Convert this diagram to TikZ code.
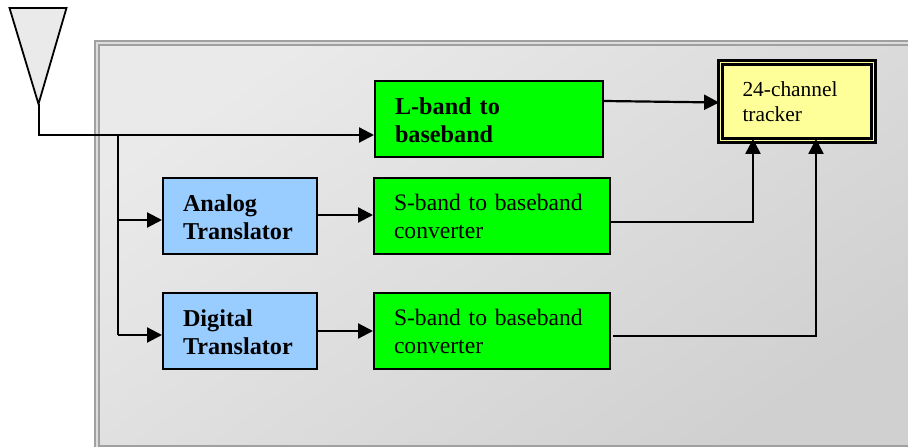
\documentclass[tikz,border=0pt]{standalone}
\usepackage{fontspec}
\setmainfont{Liberation Serif}
\usetikzlibrary{arrows.meta}
\definecolor{panelline}{HTML}{A0A0A0}
\definecolor{panelgap}{HTML}{DDDDDD}
\definecolor{paneltop}{HTML}{EAEAEA}
\definecolor{panelbot}{HTML}{D0D0D0}
\definecolor{boxgreen}{HTML}{00FF00}
\definecolor{boxblue}{HTML}{99CCFF}
\definecolor{boxyellow}{HTML}{FFFF99}
\tikzset{
  panel/.style={draw=panelline,line width=1.8bp,double=panelgap,double distance=2.4bp,
    top color=paneltop,bottom color=panelbot,shading angle=35,
    minimum width=825bp,minimum height=405bp,inner sep=0pt},
  block/.style={draw=black,line width=2bp,inner xsep=20bp,inner ysep=0pt,minimum height=76bp,align=left},
  greenblock/.style={block,fill=boxgreen,text width=196bp,font=\fontsize{23.6bp}{28bp}\selectfont},
  boldblock/.style={block,font=\fontsize{24.2bp}{28bp}\selectfont\bfseries,execute at begin node={\rule{0pt}{19bp}}},
  blueblock/.style={boldblock,fill=boxblue,text width=114bp},
  trackerblock/.style={draw=black,line width=2.8bp,double=boxyellow,double distance=1.8bp,fill=boxyellow,
    inner xsep=22bp,inner ysep=0pt,text width=109bp,minimum height=78bp,align=left,
    font=\fontsize{21.4bp}{25bp}\selectfont},
  wire/.style={black,line width=2.2bp},
  arrowwire/.style={wire,-{Triangle[length=15bp,width=15bp]}}
}
\begin{document}
\begin{tikzpicture}[>=latex,line join=miter]
\useasboundingbox (0bp,0bp) rectangle (908bp,447bp);
%%
\node (node_panel) at (509.5bp,201.5bp) [panel] {};
\draw [black,line width=1.8bp,fill=paneltop] (9.5bp,439bp) -- (66.5bp,439bp) -- (38.5bp,343bp) -- cycle;
\coordinate (node_feed) at (39bp,343bp);
\coordinate (node_bend) at (39bp,312bp);
\coordinate (node_split) at (118bp,312bp);
\coordinate (node_mid) at (118bp,227bp);
\coordinate (node_low) at (118bp,112bp);
  \node (node_lband) at (489bp,327.5bp) [boldblock,fill=boxgreen,text width=188bp] {L-band to\\baseband};
  \node (node_analog) at (240bp,230.5bp) [blueblock] {Analog\\Translator};
  \node (node_digital) at (240bp,115.5bp) [blueblock] {Digital\\Translator};
  \node (node_sone) at (492bp,230.5bp) [greenblock] {S-band to baseband\\converter};
  \node (node_stwo) at (492bp,115.5bp) [greenblock] {S-band to baseband\\converter};
  \node (node_tracker) at (797bp,345.5bp) [trackerblock] {24-channel\\tracker};
%
\draw [wire] (node_feed) -- (node_bend) -- (node_split);
\draw [arrowwire] (node_split) -- (node_lband.west |- node_split);
\draw [wire] (node_split) -- (node_low);
\draw [arrowwire] (node_mid) -- (node_analog.west |- node_mid);
\draw [arrowwire] (node_low) -- (node_digital.west |- node_low);
\draw [arrowwire] (node_analog.east |- 0,232bp) -- (node_sone.west |- 0,232bp);
\draw [arrowwire] (node_digital.east |- 0,116bp) -- (node_stwo.west |- 0,116bp);
\draw [arrowwire] ([yshift=18.5bp]node_lband.east) -- ([yshift=-1bp]node_tracker.west);
\draw [arrowwire] (node_sone.east |- 0,225bp) -| ([xshift=-44bp,yshift=3bp]node_tracker.south);
\draw [arrowwire] ([xshift=2bp]node_stwo.east |- 0,111bp) -| ([xshift=19bp,yshift=3bp]node_tracker.south);
%
\end{tikzpicture}
\end{document}
